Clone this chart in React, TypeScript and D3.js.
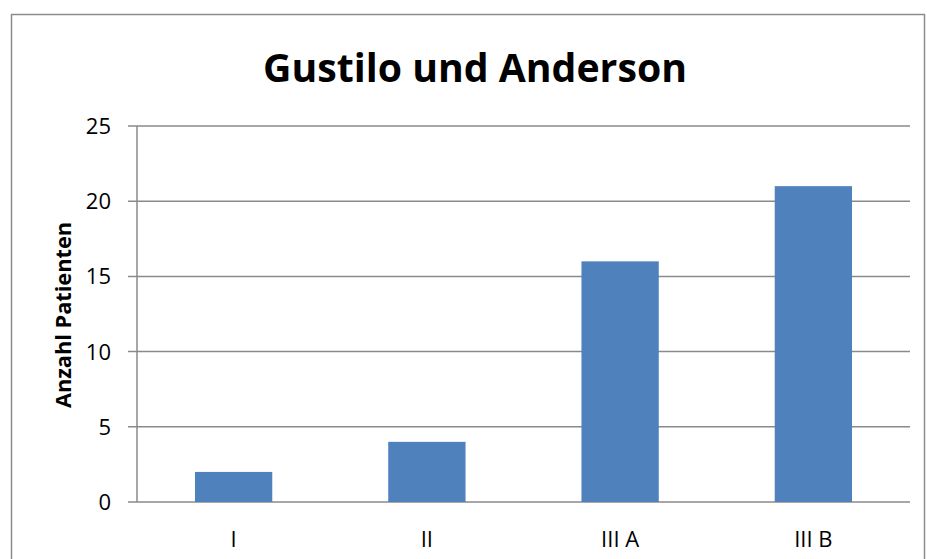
import React, { useEffect, useRef } from 'react';
import * as d3 from 'd3';

const categories = ['I', 'II', 'III A', 'III B'];
const patients = [2, 4, 16, 21];
const yTicks = [0, 5, 10, 15, 20, 25];

const W = 927;
const H = 559;
const FONT = '"Open Sans", "Liberation Sans", sans-serif';

const App: React.FC = () => {
  const svgRef = useRef<SVGSVGElement>(null);

  useEffect(() => {
    if (!svgRef.current) return;
    const svg = d3.select(svgRef.current);
    svg.selectAll('*').remove();

    const left = 137;
    const right = 910;
    const top = 126;
    const bottom = 502;

    const x = d3.scaleBand<string>().domain(categories).range([left, right]).paddingInner(0.6).paddingOuter(0.3);
    const y = d3.scaleLinear().domain([0, 25]).range([bottom, top]);

    // outer chart frame
    svg
      .append('rect')
      .attr('x', 11.5)
      .attr('y', 14.5)
      .attr('width', 913)
      .attr('height', 560)
      .attr('fill', 'white')
      .attr('stroke', '#8c8c8c')
      .attr('stroke-width', 1.5);

    svg
      .append('text')
      .attr('x', 475)
      .attr('y', 82)
      .attr('text-anchor', 'middle')
      .attr('font-family', FONT)
      .attr('font-weight', 'bold')
      .attr('font-size', 39)
      .attr('textLength', 424)
      .attr('lengthAdjust', 'spacingAndGlyphs')
      .text('Gustilo und Anderson');

    // gridlines + y ticks
    svg
      .append('g')
      .selectAll('line')
      .data(yTicks)
      .enter()
      .append('line')
      .attr('x1', left - 9)
      .attr('x2', right)
      .attr('y1', (d) => y(d))
      .attr('y2', (d) => y(d))
      .attr('stroke', '#8a8a8a')
      .attr('stroke-width', 1.5);

    svg
      .append('line')
      .attr('x1', left)
      .attr('x2', left)
      .attr('y1', top)
      .attr('y2', bottom)
      .attr('stroke', '#8a8a8a')
      .attr('stroke-width', 1.5);

    svg
      .append('g')
      .selectAll('text')
      .data(yTicks)
      .enter()
      .append('text')
      .attr('x', 111)
      .attr('y', (d) => y(d))
      .attr('dy', '0.36em')
      .attr('text-anchor', 'end')
      .attr('font-family', FONT)
      .attr('font-size', 22)
      .text((d) => d);

    svg
      .append('g')
      .selectAll('rect')
      .data(patients)
      .enter()
      .append('rect')
      .attr('x', (_, i) => x(categories[i])!)
      .attr('y', (d) => y(d))
      .attr('width', x.bandwidth())
      .attr('height', (d) => bottom - y(d))
      .attr('fill', '#4f81bd');

    svg
      .append('g')
      .selectAll('text')
      .data(categories)
      .enter()
      .append('text')
      .attr('x', (d) => x(d)! + x.bandwidth() / 2)
      .attr('y', 547)
      .attr('text-anchor', 'middle')
      .attr('font-family', FONT)
      .attr('font-size', 22)
      .text((d) => d);

    svg
      .append('text')
      .attr('transform', 'translate(71,315) rotate(-90)')
      .attr('text-anchor', 'middle')
      .attr('font-family', FONT)
      .attr('font-weight', 'bold')
      .attr('font-size', 22)
      .attr('textLength', 186)
      .attr('lengthAdjust', 'spacingAndGlyphs')
      .text('Anzahl Patienten');
  }, []);

  return (
    <svg
      ref={svgRef}
      width={W}
      height={H}
      style={{ position: 'absolute', top: 0, left: 0, background: 'white' }}
    />
  );
};

export default App;
